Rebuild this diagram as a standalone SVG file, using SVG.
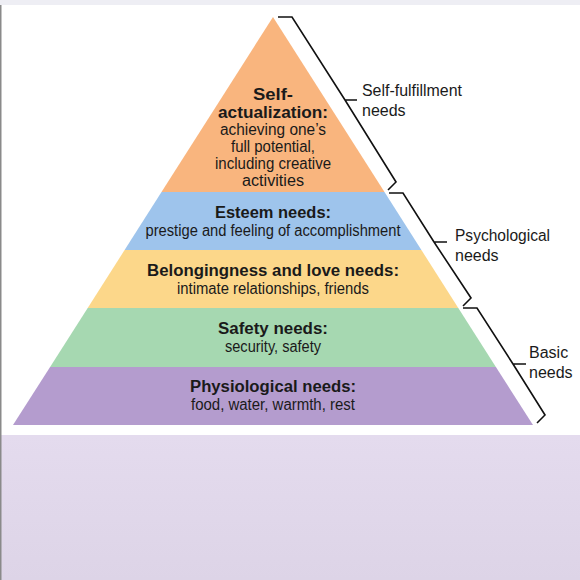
<svg xmlns="http://www.w3.org/2000/svg" width="580" height="580" viewBox="0 0 580 580">
<defs>
<linearGradient id="bottomGrad" x1="0" y1="0" x2="0" y2="1">
<stop offset="0" stop-color="#e4dbee"/>
<stop offset="1" stop-color="#ddd4e7"/>
</linearGradient>
<style>
.t{font-family:"Liberation Sans",Arial,sans-serif;fill:#1a1a1a;text-anchor:middle;font-size:16px}
.b{font-weight:bold}
.lbl{font-family:"Liberation Sans",Arial,sans-serif;fill:#1a1a1a;font-size:16px}
.br{fill:none;stroke:#111;stroke-width:1.6;stroke-linejoin:miter}
</style>
</defs>
<rect x="0" y="0" width="580" height="580" fill="#ffffff"/>
<rect x="0" y="0" width="580" height="5" fill="#eeeef4"/>
<rect x="0" y="435" width="580" height="145" fill="url(#bottomGrad)"/>
<rect x="0" y="5" width="1.5" height="575" fill="#8a8a8a"/>

<g id="self-actualization">
<polygon points="273,17 384.5,192 161.5,192" fill="#f9b57e"/>
<text class="t b" x="273" y="100" textLength="40" lengthAdjust="spacingAndGlyphs">Self-</text>
<text class="t b" x="273" y="118" textLength="110" lengthAdjust="spacingAndGlyphs">actualization:</text>
<text class="t" x="273" y="135" textLength="106" lengthAdjust="spacingAndGlyphs">achieving one’s</text>
<text class="t" x="273" y="152" textLength="84" lengthAdjust="spacingAndGlyphs">full potential,</text>
<text class="t" x="273" y="169" textLength="116" lengthAdjust="spacingAndGlyphs">including creative</text>
<text class="t" x="273" y="186" textLength="62" lengthAdjust="spacingAndGlyphs">activities</text>
</g>
<g id="esteem">
<polygon points="161.5,192 384.5,192 421.4,250 124.6,250" fill="#9ec4ec"/>
<text class="t b" x="273" y="218" textLength="116" lengthAdjust="spacingAndGlyphs">Esteem needs:</text>
<text class="t" x="273" y="236" textLength="255" lengthAdjust="spacingAndGlyphs">prestige and feeling of accomplishment</text>
</g>
<g id="belongingness">
<polygon points="124.6,250 421.4,250 458.3,308 87.7,308" fill="#fcd78a"/>
<text class="t b" x="273" y="276" textLength="252" lengthAdjust="spacingAndGlyphs">Belongingness and love needs:</text>
<text class="t" x="273" y="294" textLength="192" lengthAdjust="spacingAndGlyphs">intimate relationships, friends</text>
</g>
<g id="safety">
<polygon points="87.7,308 458.3,308 495.9,367 50.1,367" fill="#a6d8b1"/>
<text class="t b" x="273" y="334" textLength="110" lengthAdjust="spacingAndGlyphs">Safety needs:</text>
<text class="t" x="273" y="352" textLength="96" lengthAdjust="spacingAndGlyphs">security, safety</text>
</g>
<g id="physiological">
<polygon points="50.1,367 495.9,367 533,425 13,425" fill="#b49cce"/>
<text class="t b" x="273" y="392" textLength="166" lengthAdjust="spacingAndGlyphs">Physiological needs:</text>
<text class="t" x="273" y="410" textLength="164" lengthAdjust="spacingAndGlyphs">food, water, warmth, rest</text>
</g>

<g id="connectors">
<path class="br" d="M278,17 H292 L345,100 M345,100 H357 M345,100 L396,182 L388,190"/>
<path class="br" d="M389,193 H403 L434,242 M434,242 H447 M434,242 L471,298 L463,306"/>
<path class="br" d="M463,308 H477 L513,364 M513,364 H526 M513,364 L545,415 L537,423"/>
</g>

<g id="label-self-fulfillment">
<text class="lbl" x="362" y="96" textLength="100" lengthAdjust="spacingAndGlyphs">Self-fulfillment</text>
<text class="lbl" x="362" y="116">needs</text>
</g>
<g id="label-psychological">
<text class="lbl" x="455" y="241" textLength="95" lengthAdjust="spacingAndGlyphs">Psychological</text>
<text class="lbl" x="455" y="261">needs</text>
</g>
<g id="label-basic">
<text class="lbl" x="529" y="358">Basic</text>
<text class="lbl" x="529" y="378">needs</text>
</g>
</svg>
